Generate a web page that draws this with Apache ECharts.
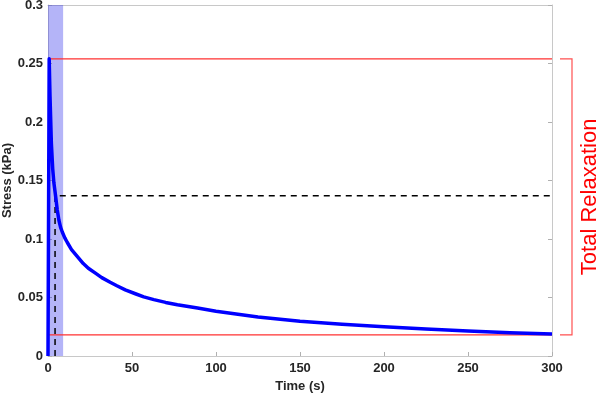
<!DOCTYPE html>
<html><head><meta charset="utf-8">
<script src="https://cdn.jsdelivr.net/npm/echarts@6/dist/echarts.min.js"></script>
<style>html,body{margin:0;padding:0;background:#fff}#c{width:600px;height:396px}</style>
</head><body><div id="c"></div>
<script>
const time = [0, 0.7, 1.2, 2.0, 2.8, 3.5, 4.5, 5.5, 6.5, 7.5, 8.5, 10, 11.5, 14, 17.5, 21, 24, 28, 32, 37, 41, 46, 52, 57, 63, 70, 77, 89, 100, 125, 150, 175, 200, 225, 250, 275, 300];
const stress = [0, 0.254, 0.222, 0.182, 0.160, 0.148, 0.137, 0.125, 0.116, 0.110, 0.106, 0.101, 0.097, 0.091, 0.085, 0.079, 0.075, 0.071, 0.067, 0.063, 0.060, 0.0565, 0.0532, 0.0505, 0.0482, 0.0458, 0.0438, 0.0410, 0.0382, 0.0334, 0.0298, 0.0272, 0.0250, 0.0231, 0.0214, 0.0199, 0.0187];
const peakStress = 0.254;
const finalStress = 0.018;
const halfStress = 0.137;
const halfTime = 4.2;
const loadWindow = [0, 9];
const xTicks = [0, 50, 100, 150, 200, 250, 300];
const yTicks = [0, 0.05, 0.1, 0.15, 0.2, 0.25, 0.3];
const bracketLabel = 'Total Relaxation';

const chart = echarts.init(document.getElementById('c'));
const fnt = 'Helvetica, "Liberation Sans", Arial, sans-serif';
const axisCommon = {
  axisLine: {show: true, onZero: false, lineStyle: {color: '#c8c8c8', width: 1}},
  axisTick: {show: true, inside: true, length: 4, lineStyle: {color: '#b0b0b0'}},
  splitLine: {show: false}
};
const lbl = {fontFamily: fnt, fontWeight: 'bold', fontSize: 13, color: '#262626'};
chart.setOption({
  animation: false,
  grid: {left: 48, right: 48, top: 5, bottom: 40, containLabel: false, outerBoundsMode: 'none'},
  xAxis: [
    Object.assign({type: 'value', min: xTicks[0], max: xTicks[xTicks.length-1], interval: 50,
      name: 'Time (s)', nameLocation: 'middle', nameGap: 24, nameMoveOverlap: false,
      nameTextStyle: lbl,
      axisLabel: Object.assign({margin: 6}, lbl)}, axisCommon),
    Object.assign({type: 'value', position: 'top', min: 0, max: 300, interval: 50, axisLabel: {show: false}}, axisCommon, {axisTick: {show: false}})
  ],
  yAxis: [
    Object.assign({type: 'value', min: yTicks[0], max: yTicks[yTicks.length-1], interval: 0.05,
      name: 'Stress (kPa)', nameLocation: 'middle', nameGap: 34, nameMoveOverlap: false,
      nameTextStyle: lbl,
      axisLabel: Object.assign({margin: 5}, lbl)}, axisCommon),
    Object.assign({type: 'value', position: 'right', min: 0, max: 0.3, interval: 0.05, axisLabel: {show: false}}, axisCommon)
  ],
  series: [
    {type: 'line', data: [], markArea: {silent: true, itemStyle: {color: 'rgba(40,40,235,0.35)'},
      data: [[{xAxis: loadWindow[0]}, {xAxis: loadWindow[1]}]]}},
    {type: 'line', data: [[0, peakStress], [300, peakStress]], symbol: 'none', lineStyle: {color: '#ff3030', width: 1.2}, z: 3},
    {type: 'line', data: [[0, finalStress], [300, finalStress]], symbol: 'none', lineStyle: {color: '#ff3030', width: 1.2}, z: 3},
    {type: 'line', data: [[halfTime, 0], [halfTime, halfStress], [300, halfStress]], symbol: 'none',
      lineStyle: {color: '#000', width: 1.5, type: [6, 5]}, z: 4},
    {type: 'line', data: time.map((t, i) => [t, stress[i]]), symbol: 'none',
      lineStyle: {color: '#0000ff', width: 3.5, join: 'round'}, z: 5}
  ]
});
const pTop = chart.convertToPixel({gridIndex: 0}, [300, peakStress]);
const pBot = chart.convertToPixel({gridIndex: 0}, [300, finalStress]);
const bx = pTop[0] + 20, tick = 12;
chart.setOption({graphic: [
  {type: 'polyline', shape: {points: [[bx - tick, pTop[1]], [bx, pTop[1]], [bx, pBot[1]], [bx - tick, pBot[1]]]},
   style: {stroke: '#ff5050', lineWidth: 1.2, fill: null}},
  {type: 'text', x: bx + 18, y: (pTop[1] + pBot[1]) / 2, rotation: Math.PI / 2,
   style: {text: bracketLabel, fill: '#ff0000', font: '22px ' + fnt, textAlign: 'center', textVerticalAlign: 'middle'}}
]});
</script></body></html>
